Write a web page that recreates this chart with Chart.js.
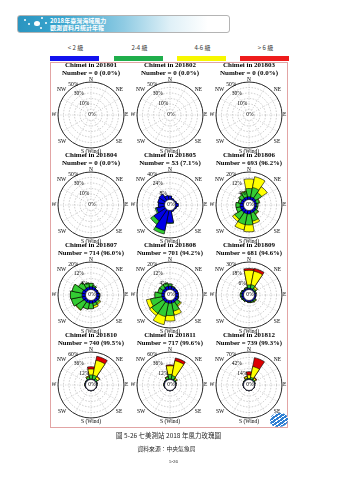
<!DOCTYPE html>
<html>
<head>
<meta charset="utf-8">
<script src="https://cdn.jsdelivr.net/npm/chart.js@4.4.1/dist/chart.umd.min.js"></script>
<style>
  html, body { margin: 0; padding: 0; background: #fff; }
  body { width: 339px; height: 480px; position: relative; overflow: hidden; font-family: 'Liberation Serif', serif; }
  #banner {
    position: absolute; left: 17px; top: 15px; width: 213px; height: 18px; box-sizing: border-box;
    border: 1.5px solid #b4b4b4; border-radius: 3px;
    background: linear-gradient(90deg, #2b95c0 0%, #3aa6cf 22%, #8fcbe3 50%, #dff0f7 72%, #ffffff 90%);
  }
  #banner .bt { position: absolute; left: 32px; color: #fff; font: bold 6px/7px 'Noto Sans CJK TC', sans-serif; white-space: nowrap; }
  #banner .dot { position: absolute; width: 2px; height: 2px; border-radius: 50%; background: #fff; }
  #banner .heart { position: absolute; left: 16px; top: 5px; width: 6px; height: 5px; border-radius: 50% 50% 40% 40%; background: #fff; }
  .lg { position: absolute; top: 44px; width: 50px; text-align: center; font: 6px/8px 'Noto Sans CJK TC', sans-serif; color: #333; }
  .bar { position: absolute; top: 55.5px; height: 5px; width: 49px; }
  #frame { position: absolute; left: 50px; top: 62px; width: 238px; height: 366px; box-sizing: border-box; border: 1px solid #e2a4a4; }
  canvas { position: absolute; }
  .cap { position: absolute; left: 0; width: 339px; text-align: center; color: #222; white-space: nowrap; }
  #logo {
    position: absolute; left: 270px; top: 413px; width: 18px; height: 14px; border-radius: 50% 40% 50% 40%;
    background: repeating-linear-gradient(-35deg, #2f7fd3 0 2px, #ffffff 2px 3px);
  }
</style>
</head>
<body>
<div id="banner">
  <span class="dot" style="left:6px;top:3px"></span>
  <span class="dot" style="left:10px;top:7px"></span>
  <span class="dot" style="left:23px;top:1px"></span>
  <span class="dot" style="left:22px;top:11px"></span>
  <span class="dot" style="left:27px;top:6px"></span>
  <span class="heart"></span>
  <div class="bt" style="top:1px">2018年臺灣海域風力</div>
  <div class="bt" style="top:8px">觀測資料月統計年報</div>
</div>
<div id="legend"></div>
<div id="frame"></div>
<div id="roses"></div>
<div id="logo"></div>
<div class="cap" style="top:432px; left:-1px; font: 6.5px/7px 'Noto Sans CJK TC', sans-serif;">圖 5-26 七美測站 2018 年風力玫瑰圖</div>
<div class="cap" style="top:445px; left:-3px; font: 5.8px/7px 'Noto Sans CJK TC', sans-serif;">資料來源：中央氣象局</div>
<div class="cap" style="top:459px; left:4px; font: 5px/6px 'Liberation Serif', serif;">5-26</div>

<script>
// 16 sectors, clockwise from north
const directions = ['N','NNE','NE','ENE','E','ESE','SE','SSE','S','SSW','SW','WSW','W','WNW','NW','NNW'];
const speedClasses = ['< 2 級', '2-4 級', '4-6 級', '> 6 級'];
const months = ['201801','201802','201803','201804','201805','201806','201807','201808','201809','201810','201811','201812'];
const obsCount = [0, 0, 0, 0, 53, 693, 714, 701, 681, 740, 717, 739];
const obsPercent = ['0.0', '0.0', '0.0', '0.0', '7.1', '96.2', '96.0', '94.2', '94.6', '99.5', '99.6', '99.3'];
const ringMax = [50, 50, 50, 50, 40, 20, 20, 20, 30, 60, 60, 70];

// frequency (%) per sector; rows = <2, 2-4, 4-6, >6 級
const rose201801 = [];
const rose201802 = [];
const rose201803 = [];
const rose201804 = [];
const rose201805 = [
  [5, 2, 1, 2, 4, 2, 1, 2, 18, 30, 20, 12, 9, 10, 11, 6],
  [0, 0, 0, 0, 0, 0, 0, 0, 1, 5, 6, 2, 0, 0, 0, 0]
];
const rose201806 = [
  [2, 2, 2, 1.5, 1.5, 1.5, 2, 2, 2.5, 2.5, 2.5, 2.5, 2.5, 2, 2, 2],
  [6, 7, 5, 2, 1, 1, 2, 6, 8, 8, 6, 3, 3, 2, 3, 4],
  [7, 8, 5, 0.5, 0, 0, 0.5, 2, 5, 4, 2, 0, 0, 0, 0, 0.5]
];
const rose201807 = [
  [2, 2, 1.5, 1.5, 2, 2, 2, 2, 2, 2, 2, 2.5, 2.5, 2.5, 2, 2],
  [2.5, 1, 0, 0, 0.5, 0.5, 1.5, 2, 4, 4.5, 7, 8, 8.5, 7.5, 5, 3],
  [0, 0, 0, 0, 0, 0, 1, 1.5, 0, 0, 0.5, 0, 0, 0, 0, 0]
];
const rose201808 = [
  [2.5, 2, 2, 2, 2, 2, 2, 2, 2, 2, 2, 2, 2, 2, 2, 2.5],
  [1.5, 0.5, 0, 0, 0, 0.5, 3, 6, 9, 10, 10, 8.5, 5, 3, 3, 2.5],
  [0, 0, 0, 0, 0, 0, 1, 3, 4, 6, 2, 3, 0, 0, 0, 0]
];
const rose201809 = [
  [1.5, 1.5, 1, 1, 1.5, 1.5, 1.5, 1.5, 1.5, 1.5, 1.5, 2, 2, 2, 1.5, 1.5],
  [3.5, 4, 2, 1, 0, 0, 1.5, 1, 0.5, 0, 1, 1, 1.5, 1, 0.5, 1],
  [16, 15, 2, 0, 0, 0, 0.5, 0, 0, 0, 0, 0, 0, 0, 0, 0],
  [2, 3, 0, 0, 0, 0, 0, 0, 0, 0, 0, 0, 0, 0, 0, 0]
];
const rose201810 = [
  [1, 1, 1, 1, 0.5, 0.5, 0.5, 0.5, 0.5, 0.5, 0.5, 0.5, 1, 1, 1, 1],
  [9, 9, 4, 1, 0.5, 0, 0, 0, 0, 0, 0, 0, 0.5, 0.5, 1, 5],
  [13, 33, 5, 0, 0, 0, 0, 0, 0, 0, 0, 0, 0, 0, 0, 2],
  [5, 9, 1, 0, 0, 0, 0, 0, 0, 0, 0, 0, 0, 0, 0, 0]
];
const rose201811 = [
  [1, 1, 1, 1, 0.5, 0.5, 0.5, 0.5, 0.5, 0.5, 0.5, 0.5, 1, 1, 1, 1],
  [10, 8, 3, 1, 0.5, 0, 0, 0, 0, 0, 0, 0, 0.5, 0.5, 1, 5],
  [19, 33, 3, 0, 0, 0, 0, 0, 0, 0, 0, 0, 0, 0, 0, 1],
  [2, 6, 0, 0, 0, 0, 0, 0, 0, 0, 0, 0, 0, 0, 0, 0]
];
const rose201812 = [
  [1, 1, 1, 1, 0.5, 0.5, 0.5, 0.5, 0.5, 0.5, 0.5, 0.5, 1, 1, 1, 1],
  [2, 5, 3, 1, 0, 0, 0, 0, 0, 0, 0, 0, 0, 0.5, 1, 3],
  [8.5, 28, 4, 0, 0, 0, 0, 0, 0, 0, 0, 0, 0, 0, 0, 4],
  [8.5, 23, 2, 0, 0, 0, 0, 0, 0, 0, 0, 0, 0, 0, 0, 1]
];
const roses = [rose201801, rose201802, rose201803, rose201804, rose201805, rose201806,
               rose201807, rose201808, rose201809, rose201810, rose201811, rose201812];

const legendColors = ['#1212ee', '#1fae4b', '#f7f700', '#ee1c1c'];
const roseColors = ['#0000e6', '#33cc33', '#ffff00', '#dd0000'];

// legend strip above the frame
const legendBox = document.getElementById('legend');
const legendLeft = [50, 114, 177, 240];
speedClasses.forEach((name, k) => {
  const t = document.createElement('div');
  t.className = 'lg';
  t.style.left = (legendLeft[k] + 0.5) + 'px';
  t.textContent = name;
  legendBox.appendChild(t);
  const b = document.createElement('div');
  b.className = 'bar';
  b.style.left = legendLeft[k] + 'px';
  b.style.background = legendColors[k];
  legendBox.appendChild(b);
});

// overlapping fills: cumulative totals, first dataset (calm) ends up on top
function stackedSets(rows) {
  const sets = [];
  let running = directions.map(() => 0);
  rows.forEach((row, k) => {
    running = running.map((v, i) => v + row[i]);
    sets.push({ data: running, backgroundColor: roseColors[k], borderColor: '#000', borderWidth: 0.6 });
  });
  return sets;
}

const roseDecor = {
  id: 'roseDecor',
  beforeDatasetsDraw(chart) {
    const s = chart.scales.r, ctx = chart.ctx;
    const r0 = s.getDistanceFromCenterForValue(0), R = s.drawingArea;
    ctx.save();
    ctx.strokeStyle = '#b0b0b0';
    ctx.lineWidth = 0.5;
    ctx.setLineDash([1.2, 1.2]);
    for (let a = 0; a < 360; a += 30) {
      const t = a * Math.PI / 180;
      ctx.beginPath();
      ctx.moveTo(s.xCenter + r0 * Math.sin(t), s.yCenter - r0 * Math.cos(t));
      ctx.lineTo(s.xCenter + R * Math.sin(t), s.yCenter - R * Math.cos(t));
      ctx.stroke();
    }
    ctx.setLineDash([]);
    ctx.strokeStyle = '#000';
    ctx.lineWidth = 0.8;
    ctx.beginPath();
    ctx.arc(s.xCenter, s.yCenter, R, 0, Math.PI * 2);
    ctx.stroke();
    ctx.restore();
  },
  afterDatasetsDraw(chart) {
    const s = chart.scales.r, ctx = chart.ctx;
    const cx = s.xCenter, cy = s.yCenter, R = s.drawingArea;
    const r0 = s.getDistanceFromCenterForValue(0);
    const step = -s.min;
    ctx.save();
    if (chart.data.datasets.length) {
      ctx.fillStyle = '#fff';
      ctx.strokeStyle = '#000';
      ctx.lineWidth = 0.6;
      ctx.beginPath();
      ctx.arc(cx, cy, r0, 0, Math.PI * 2);
      ctx.fill();
      ctx.stroke();
    }
    ctx.fillStyle = '#000';
    ctx.font = '5.5px "Liberation Serif"';
    const put = (txt, x, y, align, base) => {
      ctx.textAlign = align;
      ctx.textBaseline = base;
      ctx.fillText(txt, x, y);
    };
    const d = R * Math.SQRT1_2;
    put('N', cx, cy - R - 2.2, 'center', 'middle');
    put('S (Wind)', cx, cy + R + 3.6, 'center', 'middle');
    put('E', cx + R + 1, cy, 'left', 'middle');
    put('W', cx - R - 1.5, cy, 'right', 'middle');
    put('NE', cx + d + 1.5, cy - d - 2.5, 'left', 'middle');
    put('SE', cx + d + 1.5, cy + d + 2.8, 'left', 'middle');
    put('SW', cx - d - 1.5, cy + d + 2.8, 'right', 'middle');
    put('NW', cx - d - 1.5, cy - d - 2.5, 'right', 'middle');
    // ring labels along the NNW diagonal
    [step, step * 3, step * 5].forEach(v => {
      const dist = s.getDistanceFromCenterForValue(v) + 2.5;
      put(v + '%', cx - dist * 0.5, cy - dist * 0.866, 'center', 'middle');
    });
    put('0%', cx + 1, cy, 'center', 'middle');
    ctx.restore();
  }
};

const colCenters = [52, 131, 210];
const rowTops = [61, 151, 241, 331];
const holder = document.getElementById('roses');

months.forEach((m, i) => {
  const cv = document.createElement('canvas');
  cv.width = 79;
  cv.height = 96;
  cv.style.left = colCenters[i % 3] + 'px';
  cv.style.top = rowTops[Math.floor(i / 3)] + 'px';
  holder.appendChild(cv);
  const step = ringMax[i] / 5;
  new Chart(cv.getContext('2d'), {
    type: 'polarArea',
    data: { labels: directions, datasets: stackedSets(roses[i]) },
    options: {
      responsive: false,
      animation: false,
      events: [],
      layout: { padding: { top: 0, left: 6, right: 7, bottom: 8 } },
      plugins: {
        legend: { display: false },
        tooltip: { enabled: false },
        title: {
          display: true,
          text: ['Chimei in ' + m, 'Number = ' + obsCount[i] + ' (' + obsPercent[i] + '%)'],
          color: '#000',
          font: { family: 'Liberation Serif', size: 7, weight: 'bold', lineHeight: 1.05 },
          padding: { top: 1, bottom: 5.4 }
        }
      },
      scales: {
        r: {
          type: 'radialLinear',
          min: -step,
          max: ringMax[i],
          startAngle: -11.25,
          ticks: { display: false, stepSize: step },
          grid: { circular: true, color: '#9a9a9a', lineWidth: 0.5 },
          border: { dash: [1.5, 1.5] },
          angleLines: { display: false },
          pointLabels: { display: false }
        }
      }
    },
    plugins: [roseDecor]
  });
});
</script>
</body>
</html>
